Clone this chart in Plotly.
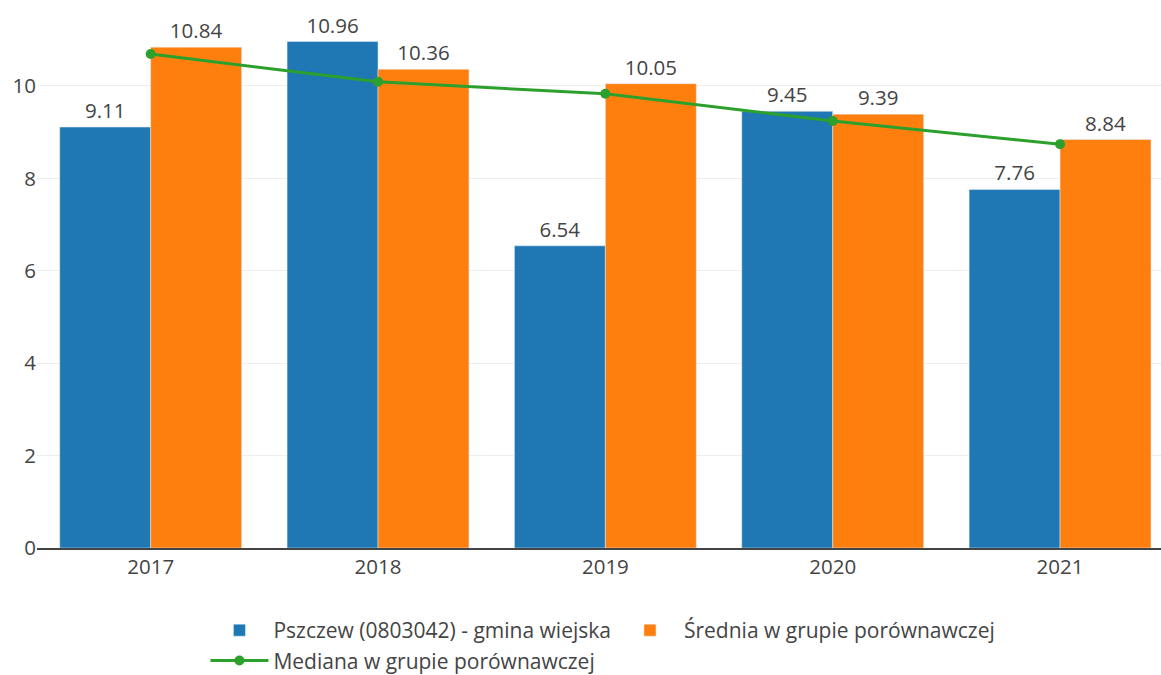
import plotly.graph_objects as go

years = ["2017", "2018", "2019", "2020", "2021"]
gmina = [9.11, 10.96, 6.54, 9.45, 7.76]
srednia = [10.84, 10.36, 10.05, 9.39, 8.84]
mediana = [10.69, 10.09, 9.83, 9.24, 8.74]

name_gmina = "Pszczew (0803042) - gmina wiejska"
name_srednia = "Średnia w grupie porównawczej"
name_mediana = "Mediana w grupie porównawczej"

FONT = "Open Sans"
FS = 20.5
fig = go.Figure()
fig.add_trace(go.Bar(x=years, y=gmina, name=name_gmina, marker_color="#1f77b4",
                     text=[f"{v:.2f}" for v in gmina], textposition="outside",
                     textfont=dict(color="#444", size=FS, family=FONT), cliponaxis=False))
fig.add_trace(go.Bar(x=years, y=srednia, name=name_srednia, marker_color="#ff7f0e",
                     text=[f"{v:.2f}" for v in srednia], textposition="outside",
                     textfont=dict(color="#444", size=FS, family=FONT), cliponaxis=False))
fig.add_trace(go.Scatter(x=years, y=mediana, name=name_mediana, mode="lines+markers",
                         line=dict(color="#2ca02c", width=3), marker=dict(size=10, color="#2ca02c"),
                         cliponaxis=False))

fig.update_layout(
    width=1161, height=675,
    margin=dict(l=37, r=0, t=0, b=127, autoexpand=False),
    paper_bgcolor="white", plot_bgcolor="white",
    font=dict(family=FONT, size=FS, color="#444"),
    barmode="group", bargap=0.2, bargroupgap=0,
    showlegend=True,
    legend=dict(orientation="h", x=0.5035, xanchor="center", yref="container", y=0.0963, yanchor="top",
                font=dict(size=21, color="#444"), traceorder="normal", itemwidth=58),
    xaxis=dict(type="category", range=[-0.5, 4.444], showgrid=False,
               showline=True, linecolor="#444", linewidth=1.5, ticks="", tickfont=dict(size=FS)),
    yaxis=dict(range=[0, 11.86], dtick=2, gridcolor="#eee", zeroline=False,
               showline=False, tickfont=dict(size=FS)),
)

fig.write_html("out.html", config={"displayModeBar": False},
               post_script="document.body.style.margin='0';document.body.style.overflow='hidden';")
